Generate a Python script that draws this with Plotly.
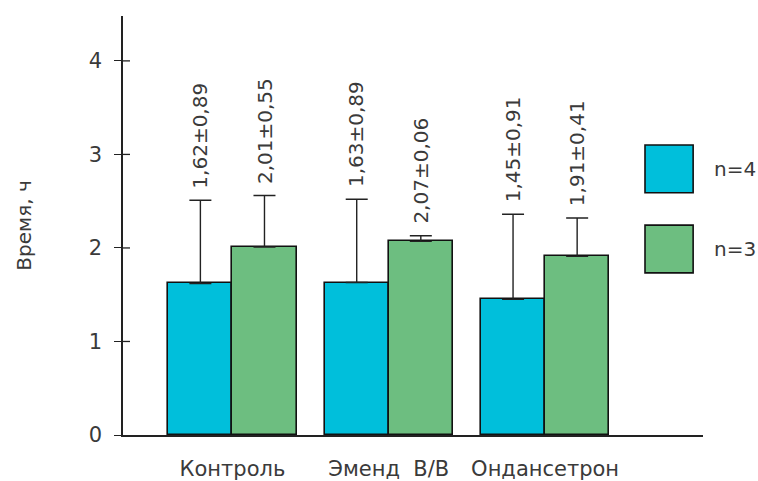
import plotly.graph_objects as go

# Data
categories = ["Контроль", "Эменд  В/В", "Ондансетрон"]
n4_mean = [1.62, 1.63, 1.45]
n4_sd = [0.89, 0.89, 0.91]
n3_mean = [2.01, 2.07, 1.91]
n3_sd = [0.55, 0.06, 0.41]
series_names = ["n=4", "n=3"]
y_ticks = [0, 1, 2, 3, 4]

CYAN = "#00BFDB"
GREEN = "#6DBE80"
TEXT = "#3a3a3a"
FONT = "DejaVu Sans"
BAR_W = 0.41

xs = list(range(len(categories)))

fig = go.Figure()

def fmt(v):
    return f"{v:.2f}".replace(".", ",")

for means, sds, color, offset, name in [
    (n4_mean, n4_sd, CYAN, -BAR_W, series_names[0]),
    (n3_mean, n3_sd, GREEN, 0.0, series_names[1]),
]:
    fig.add_trace(go.Bar(
        x=xs, y=means, name=name,
        width=BAR_W, offset=offset,
        marker=dict(color=color, line=dict(color="#111111", width=1.6)),
        error_y=dict(type="data", array=sds, arrayminus=[0] * len(sds),
                     symmetric=False, color="#222222", thickness=1.4, width=11),
        showlegend=False,
    ))
    for x, m, s in zip(xs, means, sds):
        fig.add_annotation(
            x=x + offset + BAR_W / 2, y=m + s, xref="x", yref="y",
            text=f"{fmt(m)}±{fmt(s)}", textangle=-90, showarrow=False,
            xanchor="center", yanchor="bottom", yshift=10,
            font=dict(family=FONT, size=20, color=TEXT),
        )

# inner half of the crossing y ticks
for t in y_ticks[1:]:
    fig.add_shape(type="line", xref="paper", yref="y", x0=0, x1=7 / 580,
                  y0=t, y1=t, line=dict(color="#222222", width=1.3))

# legend boxes drawn as shapes with labels
legend_items = [(series_names[0], CYAN, 0.692), (series_names[1], GREEN, 0.501)]
for name, color, top in legend_items:
    fig.add_shape(type="rect", xref="paper", yref="paper",
                  x0=0.90, x1=0.983, y0=top - 0.114, y1=top,
                  fillcolor=color, line=dict(color="#111111", width=1.6))
    fig.add_annotation(x=1.015, y=top - 0.057, xref="paper", yref="paper",
                       text=name, showarrow=False, xanchor="left", yanchor="middle",
                       font=dict(family=FONT, size=20, color=TEXT))

fig.update_layout(
    width=758, height=481,
    margin=dict(l=123, r=55, t=16, b=46),
    paper_bgcolor="white", plot_bgcolor="white",
    font=dict(family=FONT, color=TEXT),
    bargap=0, barmode="overlay",
)
fig.update_xaxes(
    range=[-0.70, 3.01], tickvals=xs, ticktext=categories,
    showline=True, linecolor="#222222", linewidth=1.5,
    showgrid=False, zeroline=False, automargin=False,
    ticks="outside", ticklen=14, tickcolor="rgba(0,0,0,0)",
    tickfont=dict(family=FONT, size=21, color=TEXT),
)
fig.update_yaxes(
    range=[0, 4.48], tickvals=y_ticks,
    showline=True, linecolor="#222222", linewidth=1.5,
    showgrid=False, zeroline=False, automargin=False,
    ticks="outside", ticklen=7, tickcolor="#222222", tickwidth=1.3,
    ticklabelstandoff=8,
    tickfont=dict(family=FONT, size=21, color=TEXT),
    title=dict(text="Время, ч", font=dict(family=FONT, size=20, color=TEXT), standoff=52),
)

fig.write_html("out.html")
